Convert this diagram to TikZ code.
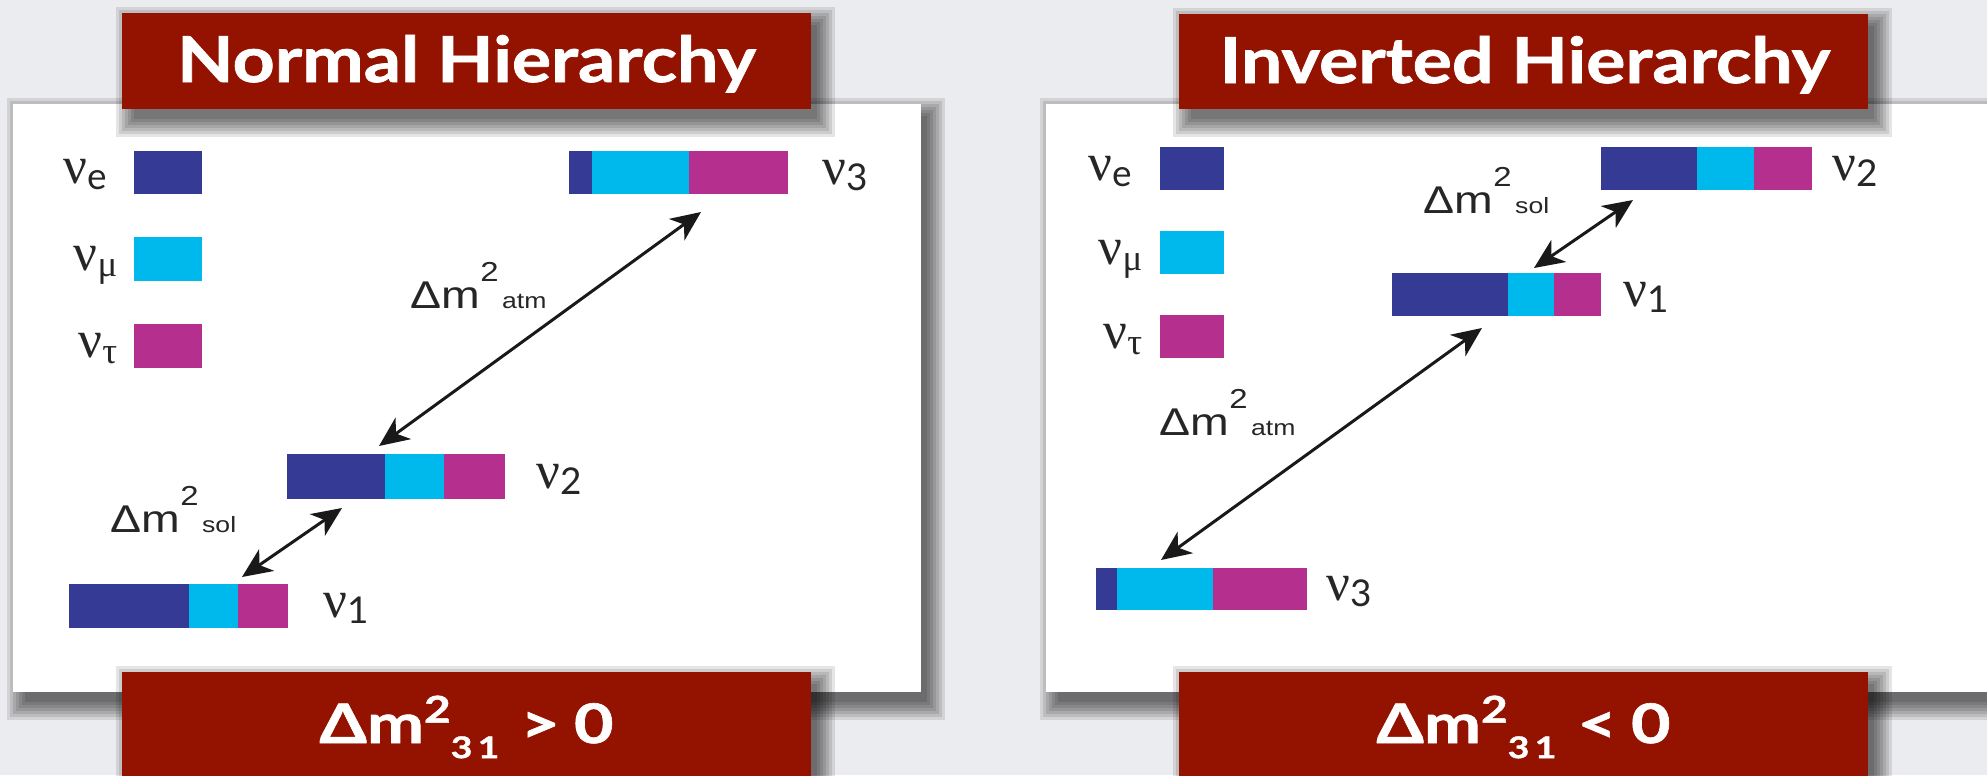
\documentclass[tikz,border=0pt]{standalone}
\usepackage{fontspec}
\usepackage{tikz}
\usetikzlibrary{arrows.meta}

\newfontfamily\titlefont[FakeStretch=1.16,BoldFeatures={FakeBold=1.2}]{Lato}
\newfontfamily\signfont[FakeStretch=1.25,BoldFeatures={FakeBold=1.2}]{Lato}
\newfontfamily\dmfont[FakeStretch=1.2]{Liberation Sans}
\newfontfamily\nufont{Liberation Serif}
\newfontfamily\idxfont{Lato}

\definecolor{hierred}{RGB}{148,19,0}
\definecolor{nue}{RGB}{53,58,148}
\definecolor{numu}{RGB}{0,185,236}
\definecolor{nutau}{RGB}{180,47,142}
\definecolor{slide}{RGB}{235,236,239}

\newcommand\nulab[1]{{\fontsize{15}{15}\nufont ν}\raisebox{-1.8pt}{\fontsize{10.5}{10.5}\selectfont #1}}
\newcommand\dmlab[1]{{\fontsize{11}{11}\dmfont Δm\raisebox{7.6pt}{\fontsize{7.8}{7.8}\selectfont 2}\hspace{1pt}\fontsize{6.3}{6.3}\selectfont #1}}
\newcommand\dmsign[1]{{\fontsize{15.5}{15.5}\signfont\bfseries Δm\raisebox{5.8pt}{\fontsize{10.5}{10.5}\selectfont 2}\raisebox{-4.3pt}{\fontsize{8.5}{8.5}\selectfont 3\hspace{1.5pt}1}\hspace{6pt}#1\hspace{4pt}0}}
\newcommand\softshadow[4]{\foreach \s in {0,3,...,18}{\fill[black,opacity=0.1] (#1+12-\s,#2+12-\s) rectangle (#3+6+\s,#4+10+\s);}}

\begin{document}
\begin{tikzpicture}[x=0.01cm,y=-0.01cm,
  dm/.style={{Stealth[length=8.5pt,width=7.5pt,inset=2.5pt]}-{Stealth[length=8.5pt,width=7.5pt,inset=2.5pt]},line width=0.85pt,black!90},
  title/.style={anchor=base,inner sep=0pt,text=white,font=\fontsize{18}{18}\titlefont\bfseries},
  sign/.style={anchor=base,inner sep=0pt,text=white},
  nu/.style={anchor=base west,inner sep=0pt,text=black!85},
  leg/.style={anchor=base east,inner sep=0pt,text=black!85},
  dmtext/.style={anchor=base west,inner sep=0pt,text=black!85}]
\useasboundingbox (0,0) rectangle (1987,775);
\clip (0,0) rectangle (1987,775);
\fill[slide] (0,0) rectangle (1987,775);

\softshadow{13}{104}{921}{692}
\softshadow{1046}{104}{2000}{692}
\fill[white] (13,104) rectangle (921,692);
\fill[white] (1046,104) rectangle (2000,692);

\softshadow{122}{13}{811}{109}
\softshadow{1179}{14}{1868}{109}
\softshadow{122}{672}{811}{800}
\softshadow{1179}{672}{1868}{800}
\fill[hierred] (122,13) rectangle (811,109);
\fill[hierred] (1179,14) rectangle (1868,109);
\fill[hierred] (122,672) rectangle (811,800);
\fill[hierred] (1179,672) rectangle (1868,800);

\node[title] (nhTitle) at (466.5,82) {Normal Hierarchy};
\node[title] (ihTitle) at (1525,83) {Inverted Hierarchy};
\node[sign] (nhSign) at (466.5,743) {\dmsign{>}};
\node[sign] (ihSign) at (1523.5,743) {\dmsign{<}};

% normal hierarchy
\fill[nue] (134,151) rectangle (202,194);
\fill[numu] (134,237) rectangle (202,281);
\fill[nutau] (134,324) rectangle (202,368);
\node[leg] (nhLegE) at (108,183) {\nulab{\idxfont e}};
\node[leg] (nhLegMu) at (118,270) {\nulab{\nufont μ}};
\node[leg] (nhLegTau) at (118,357) {\nulab{\nufont τ}};

\fill[nue] (569,151) rectangle (592,194); \fill[numu] (592,151) rectangle (689,194); \fill[nutau] (689,151) rectangle (788,194);
\fill[nue] (287,454) rectangle (385,499); \fill[numu] (385,454) rectangle (444,499); \fill[nutau] (444,454) rectangle (505,499);
\fill[nue] (69,584) rectangle (189,628); \fill[numu] (189,584) rectangle (238,628); \fill[nutau] (238,584) rectangle (288,628);
\node[nu] (nhThree) at (822,184) {\nulab{\idxfont 3}};
\node[nu] (nhTwo) at (536,488) {\nulab{\idxfont 2}};
\node[nu] (nhOne) at (323,617) {\nulab{\idxfont 1}};

\coordinate (nhAtmLo) at (379,446); \coordinate (nhAtmHi) at (701,212);
\coordinate (nhSolLo) at (242,577); \coordinate (nhSolHi) at (342,508);
\draw[dm] (nhAtmLo) -- (nhAtmHi);
\draw[dm] (nhSolLo) -- (nhSolHi);
\node[dmtext] (nhAtm) at (410,308) {\dmlab{atm}};
\node[dmtext] (nhSol) at (110,532) {\dmlab{sol}};

% inverted hierarchy
\fill[nue] (1160,147) rectangle (1224,190);
\fill[numu] (1160,231) rectangle (1224,274);
\fill[nutau] (1160,315) rectangle (1224,358);
\node[leg] (ihLegE) at (1133,180) {\nulab{\idxfont e}};
\node[leg] (ihLegMu) at (1143,264) {\nulab{\nufont μ}};
\node[leg] (ihLegTau) at (1143,348) {\nulab{\nufont τ}};

\fill[nue] (1601,147) rectangle (1697,190); \fill[numu] (1697,147) rectangle (1754,190); \fill[nutau] (1754,147) rectangle (1812,190);
\fill[nue] (1392,273) rectangle (1508,316); \fill[numu] (1508,273) rectangle (1554,316); \fill[nutau] (1554,273) rectangle (1601,316);
\fill[nue] (1096,568) rectangle (1117,610); \fill[numu] (1117,568) rectangle (1213,610); \fill[nutau] (1213,568) rectangle (1307,610);
\node[nu] (ihTwo) at (1832,180) {\nulab{\idxfont 2}};
\node[nu] (ihOne) at (1623,306) {\nulab{\idxfont 1}};
\node[nu] (ihThree) at (1326,600) {\nulab{\idxfont 3}};

\coordinate (ihSolLo) at (1534,268); \coordinate (ihSolHi) at (1633,200);
\coordinate (ihAtmLo) at (1161,560); \coordinate (ihAtmHi) at (1482,328);
\draw[dm] (ihSolLo) -- (ihSolHi);
\draw[dm] (ihAtmLo) -- (ihAtmHi);
\node[dmtext] (ihSol) at (1423,213) {\dmlab{sol}};
\node[dmtext] (ihAtm) at (1159,435) {\dmlab{atm}};
\end{tikzpicture}
\end{document}
